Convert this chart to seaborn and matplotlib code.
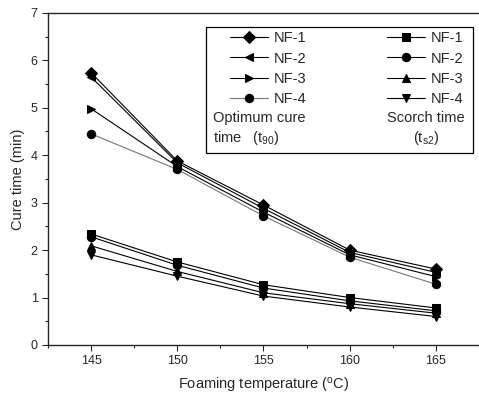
import matplotlib
matplotlib.use("Agg")
import matplotlib.pyplot as plt
import seaborn as sns
import pandas as pd
from matplotlib.patches import Rectangle
from matplotlib.ticker import MultipleLocator

temps = [145, 150, 155, 160, 165]
names = ['NF-1', 'NF-2', 'NF-3', 'NF-4']

# optimum cure time t90 (min)
t90 = {
    'NF-1': [5.74, 3.88, 2.95, 2.00, 1.60],
    'NF-2': [5.65, 3.84, 2.88, 1.95, 1.53],
    'NF-3': [4.98, 3.76, 2.80, 1.90, 1.44],
    'NF-4': [4.45, 3.70, 2.72, 1.85, 1.28],
}
# scorch time ts2 (min)
ts2 = {
    'NF-1': [2.34, 1.75, 1.27, 1.00, 0.78],
    'NF-2': [2.28, 1.68, 1.20, 0.93, 0.72],
    'NF-3': [2.09, 1.55, 1.10, 0.87, 0.67],
    'NF-4': [1.90, 1.45, 1.03, 0.80, 0.60],
}
mk_t90 = ['D', '<', '>', 'o']
mk_ts2 = ['s', 'o', '^', 'v']
col_t90 = ['black', 'black', 'black', '#777777']

sns.set_style("ticks")
plt.rcParams['font.family'] = ['Liberation Sans', 'DejaVu Sans']
plt.rcParams['mathtext.fontset'] = 'custom'
plt.rcParams['mathtext.rm'] = 'Liberation Sans'
plt.rcParams['mathtext.it'] = 'Liberation Sans'

fig = plt.figure(figsize=(4.79, 4.03), dpi=100)
ax = fig.add_axes([0.1002, 0.144, 0.8998, 0.824])

for i, n in enumerate(names):
    df = pd.DataFrame({'T': temps, 'v': t90[n]})
    sns.lineplot(data=df, x='T', y='v', ax=ax, color=col_t90[i], lw=0.8,
                 marker=mk_t90[i], markersize=6, markeredgecolor='black',
                 markerfacecolor='black', label=n)
for i, n in enumerate(names):
    df = pd.DataFrame({'T': temps, 'v': ts2[n]})
    sns.lineplot(data=df, x='T', y='v', ax=ax, color='black', lw=0.8,
                 marker=mk_ts2[i], markersize=6, markeredgecolor='black',
                 markerfacecolor='black', label=n)

ax.set_xlim(142.5, 167.5)
ax.set_ylim(0, 7)
ax.xaxis.set_major_locator(MultipleLocator(5))
ax.xaxis.set_minor_locator(MultipleLocator(2.5))
ax.yaxis.set_major_locator(MultipleLocator(1))
ax.yaxis.set_minor_locator(MultipleLocator(0.5))
ax.tick_params(which='major', length=4, width=0.8, labelsize=9, direction='out')
ax.tick_params(which='minor', length=2.5, width=0.8, direction='out')
ax.spines['right'].set_visible(False)
for s in ['left', 'bottom', 'top']:
    ax.spines[s].set_linewidth(1.0)
ax.set_xlabel('Foaming temperature ($^{\\rm o}$C)', fontsize=10.5, labelpad=6)
ax.set_ylabel('Cure time (min)', fontsize=10.5, labelpad=4)

h, l = ax.get_legend_handles_labels()
leg = ax.legend(h, l, ncol=2, frameon=False, loc='upper left',
                bbox_to_anchor=(0.465, 0.94), bbox_transform=fig.transFigure,
                fontsize=10.5, handlelength=2.6, handletextpad=0.4,
                columnspacing=5.5, labelspacing=0.42, borderpad=0)

fig.patches.append(Rectangle((0.43, 0.62), 0.557, 0.313, transform=fig.transFigure,
                             fill=False, edgecolor='black', lw=0.9))
fig.text(0.445, 0.635, 'Optimum cure\ntime   (t$_{90}$)', fontsize=10.5,
         va='bottom', ha='left', linespacing=1.35)
fig.text(0.89, 0.635, 'Scorch time\n(t$_{s2}$)', fontsize=10.5,
         va='bottom', ha='center', linespacing=1.35, multialignment='center')

fig.savefig('out.png', dpi=100)
